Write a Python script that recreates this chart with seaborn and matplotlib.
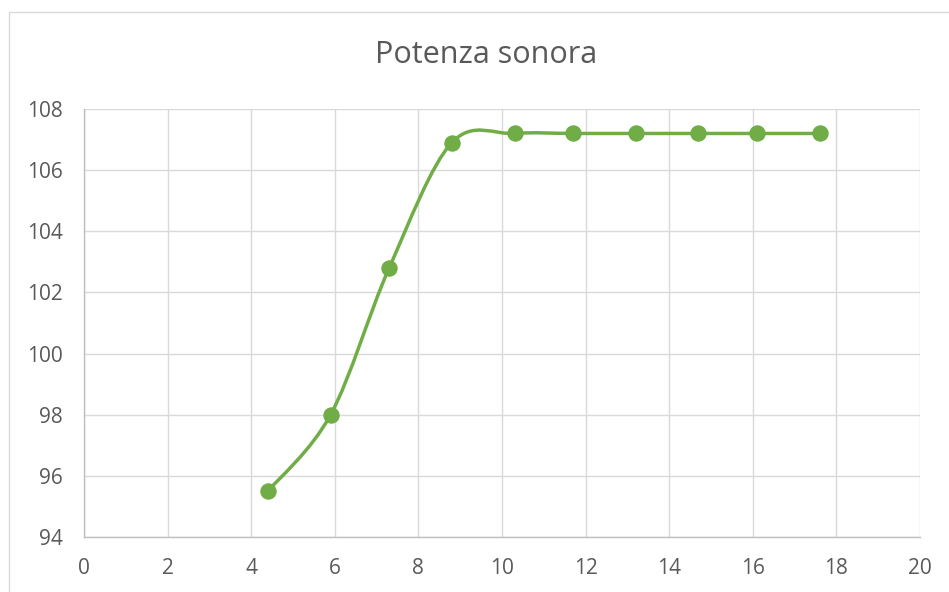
import numpy as np
import matplotlib
matplotlib.use("Agg")
from matplotlib import pyplot as plt
from matplotlib.path import Path
from matplotlib.patches import PathPatch, Rectangle
import seaborn as sns

# data
x_vals = [4.4, 5.9, 7.3, 8.8, 10.3, 11.7, 13.2, 14.7, 16.1, 17.6]
y_vals = [95.5, 98.0, 102.8, 106.9, 107.2, 107.2, 107.2, 107.2, 107.2, 107.2]
x_ticks = [0, 2, 4, 6, 8, 10, 12, 14, 16, 18, 20]
y_ticks = [94, 96, 98, 100, 102, 104, 106, 108]
title = "Potenza sonora"

GREEN = "#70AD47"
TEXT = "#595959"
GRID = "#D9D9D9"


def smooth_path(xs, ys):
    # Excel-style smoothed line: Catmull-Rom segments as cubic Beziers
    pts = np.column_stack([xs, ys]).astype(float)
    n = len(pts)
    verts = [pts[0]]
    codes = [Path.MOVETO]
    for i in range(n - 1):
        p0 = pts[i - 1] if i > 0 else pts[i]
        p1 = pts[i]
        p2 = pts[i + 1]
        p3 = pts[i + 2] if i + 2 < n else pts[i + 1]
        c1 = p1 + (p2 - p0) / 6.0
        c2 = p2 - (p3 - p1) / 6.0
        verts += [c1, c2, p2]
        codes += [Path.CURVE4] * 3
    return Path(verts, codes)


sns.set_style("white")
plt.rcParams["font.family"] = ["Open Sans", "DejaVu Sans"]

fig = plt.figure(figsize=(9.49, 5.92), dpi=100)
W, H = 949, 592
ax = fig.add_axes([84 / W, (H - 537) / H, (920 - 84) / W, (537 - 109) / H])

# chart border (cut off at right and bottom)
fig.patches.append(Rectangle((8.5 / W, -0.1), 1.2, (H - 11.5) / H + 0.1,
                             transform=fig.transFigure, fill=False,
                             edgecolor=GRID, linewidth=1.0))

ax.add_patch(PathPatch(smooth_path(x_vals, y_vals), facecolor="none",
                       edgecolor=GREEN, linewidth=2.5, capstyle="round",
                       zorder=3))
sns.scatterplot(x=x_vals, y=y_vals, ax=ax, color=GREEN, s=140,
                edgecolor=GREEN, linewidth=0, zorder=4)

ax.set_xlim(0, 20)
ax.set_ylim(94, 108)
ax.set_xticks(x_ticks)
ax.set_yticks(y_ticks)
ax.grid(True, color=GRID, linewidth=1.0)
ax.set_axisbelow(True)
for side in ["top", "right"]:
    ax.spines[side].set_visible(False)
for side in ["left", "bottom"]:
    ax.spines[side].set_color("#BFBFBF")
    ax.spines[side].set_linewidth(1.0)
ax.tick_params(length=0, labelsize=15, labelcolor=TEXT)
ax.tick_params(axis="y", pad=15)
ax.tick_params(axis="x", pad=15)

fig.text(486 / W, (H - 55) / H, title, ha="center", va="center",
         fontsize=22, color=TEXT)

plt.savefig("out.png", dpi=100)
plt.close()
